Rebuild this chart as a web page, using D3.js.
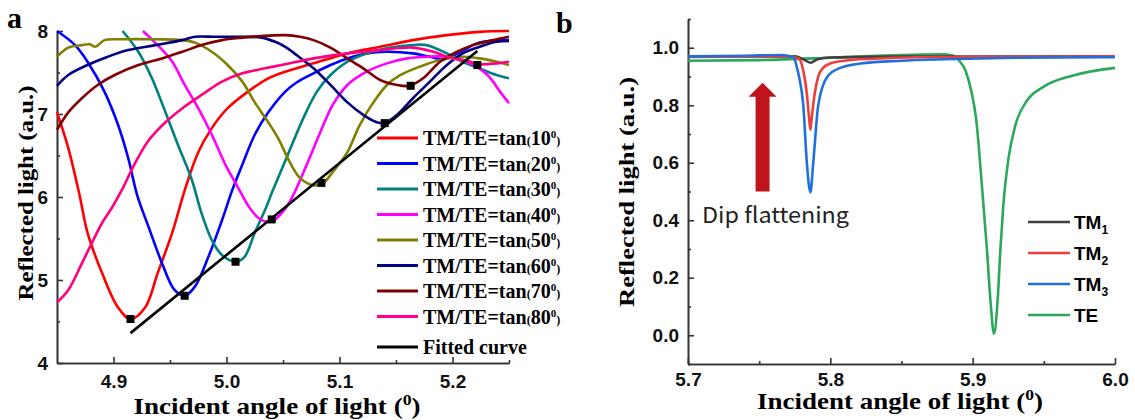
<!DOCTYPE html>
<html>
<head>
<meta charset="utf-8">
<script src="https://cdnjs.cloudflare.com/ajax/libs/d3/7.8.5/d3.min.js"></script>
<style>
  body { margin: 0; background: #fff; }
  svg { display: block; }
  .serif { font-family: "Liberation Serif", "Times New Roman", serif; font-weight: bold; }
  .sans { font-family: "Liberation Sans", Arial, sans-serif; font-weight: bold; }
</style>
</head>
<body>
<svg id="chart" width="1135" height="420"></svg>
<script>
// ---- panel a data: reflected light vs incident angle, one array per TM/TE ratio
var tan10 = [[4.850,7.02],[4.860,6.59],[4.870,6.02],[4.877,5.57],[4.890,5.08],[4.904,4.67],[4.915,4.53],[4.928,4.67],[4.939,5.08],[4.952,5.57],[4.963,6.08],[4.975,6.54],[4.987,6.83],[5.001,7.07],[5.019,7.27],[5.037,7.43],[5.052,7.51],[5.077,7.61],[5.107,7.73],[5.136,7.81],[5.165,7.89],[5.195,7.95],[5.224,7.99],[5.250,8.00]];
var tan20 = [[4.850,8.00],[4.866,7.83],[4.877,7.63],[4.892,7.27],[4.904,6.87],[4.913,6.47],[4.921,6.02],[4.931,5.64],[4.943,5.20],[4.954,4.88],[4.963,4.81],[4.972,4.92],[4.984,5.28],[4.996,5.72],[5.005,6.08],[5.014,6.39],[5.025,6.75],[5.037,7.02],[5.052,7.27],[5.062,7.38],[5.077,7.49],[5.092,7.59],[5.107,7.67],[5.124,7.73],[5.142,7.75],[5.165,7.73],[5.180,7.69],[5.193,7.66],[5.207,7.75],[5.224,7.86],[5.250,7.89]];
var tan30 = [[4.908,8.00],[4.922,7.75],[4.934,7.43],[4.946,7.02],[4.957,6.63],[4.969,6.22],[4.978,5.80],[4.987,5.48],[4.996,5.30],[5.008,5.22],[5.016,5.28],[5.025,5.57],[5.034,5.84],[5.041,6.08],[5.054,6.50],[5.068,6.95],[5.080,7.27],[5.092,7.47],[5.107,7.63],[5.124,7.73],[5.145,7.80],[5.165,7.83],[5.177,7.83],[5.195,7.73],[5.209,7.63],[5.224,7.55],[5.239,7.47],[5.250,7.43]];
var tan40 = [[4.926,8.00],[4.939,7.83],[4.952,7.63],[4.963,7.35],[4.975,7.07],[4.987,6.75],[4.999,6.39],[5.010,6.12],[5.019,5.90],[5.028,5.75],[5.037,5.70],[5.043,5.73],[5.052,5.86],[5.059,6.02],[5.071,6.39],[5.083,6.78],[5.094,7.11],[5.107,7.35],[5.124,7.51],[5.142,7.61],[5.160,7.67],[5.177,7.69],[5.195,7.69],[5.213,7.63],[5.231,7.47],[5.242,7.27],[5.250,7.13]];
var tan50 = [[4.850,7.69],[4.860,7.80],[4.872,7.83],[4.879,7.84],[4.884,7.81],[4.892,7.89],[4.908,7.90],[4.937,7.90],[4.961,7.89],[4.972,7.86],[4.987,7.75],[5.001,7.59],[5.014,7.39],[5.025,7.14],[5.037,6.90],[5.046,6.70],[5.056,6.42],[5.065,6.23],[5.077,6.14],[5.085,6.16],[5.094,6.30],[5.107,6.54],[5.118,6.87],[5.130,7.14],[5.142,7.35],[5.154,7.47],[5.171,7.57],[5.189,7.65],[5.207,7.69],[5.224,7.67],[5.239,7.63],[5.250,7.59]];
var tan60 = [[4.850,7.34],[4.860,7.47],[4.877,7.59],[4.895,7.69],[4.913,7.77],[4.937,7.83],[4.961,7.89],[4.972,7.93],[4.990,7.93],[5.014,7.93],[5.031,7.92],[5.043,7.87],[5.052,7.81],[5.062,7.71],[5.077,7.55],[5.092,7.35],[5.107,7.14],[5.121,6.99],[5.133,6.90],[5.140,6.89],[5.151,6.99],[5.165,7.19],[5.180,7.39],[5.195,7.59],[5.209,7.73],[5.224,7.81],[5.239,7.87],[5.250,7.88]];
var tan70 = [[4.850,6.81],[4.860,7.02],[4.872,7.19],[4.886,7.35],[4.901,7.47],[4.922,7.59],[4.943,7.67],[4.961,7.75],[4.978,7.83],[4.996,7.89],[5.014,7.92],[5.031,7.94],[5.052,7.95],[5.065,7.93],[5.077,7.89],[5.092,7.80],[5.107,7.67],[5.121,7.55],[5.136,7.41],[5.151,7.35],[5.162,7.34],[5.174,7.43],[5.189,7.63],[5.204,7.75],[5.218,7.83],[5.236,7.89],[5.250,7.93]];
var tan80 = [[4.850,4.73],[4.860,4.88],[4.872,5.20],[4.881,5.45],[4.890,5.69],[4.899,5.88],[4.908,6.10],[4.918,6.38],[4.931,6.68],[4.946,6.90],[4.961,7.07],[4.978,7.23],[4.996,7.39],[5.014,7.49],[5.034,7.55],[5.052,7.60],[5.077,7.67],[5.107,7.73],[5.136,7.77],[5.165,7.80],[5.183,7.75],[5.200,7.67],[5.213,7.64],[5.224,7.60],[5.239,7.61],[5.250,7.63]];
var dipMinima = [[4.915,4.53],[4.963,4.81],[5.008,5.22],[5.040,5.73],[5.084,6.17],[5.140,6.89],[5.163,7.34],[5.222,7.59]];
var fittedLine = [[4.915,4.36],[5.222,7.76]];
var seriesNamesA = ["10", "20", "30", "40", "50", "60", "70", "80"];
var coloursA = ["#ff0000", "#0000ff", "#008080", "#ff00ff", "#808000", "#000080", "#800000", "#ff0080"];
var xTicksA = [4.9, 5.0, 5.1, 5.2];
var yTicksA = [4, 5, 6, 7, 8];

// ---- panel b data
var tm1 = [[5.700,0.970],[5.775,0.970],[5.781,0.960],[5.786,0.948],[5.791,0.960],[5.800,0.966],[5.850,0.969],[6.000,0.970]];
var tm2 = [[5.700,0.968],[5.770,0.970],[5.778,0.962],[5.781,0.920],[5.7835,0.840],[5.785,0.760],[5.786,0.715],[5.787,0.760],[5.789,0.840],[5.7915,0.900],[5.795,0.930],[5.800,0.945],[5.810,0.955],[5.830,0.962],[5.860,0.967],[6.000,0.970]];
var tm3 = [[5.700,0.970],[5.740,0.972],[5.765,0.975],[5.774,0.968],[5.7766,0.930],[5.778,0.900],[5.781,0.800],[5.7835,0.600],[5.786,0.497],[5.788,0.600],[5.7915,0.800],[5.798,0.900],[5.807,0.930],[5.821,0.945],[5.850,0.955],[5.880,0.960],[5.930,0.965],[6.000,0.967]];
var te = [[5.700,0.955],[5.750,0.957],[5.800,0.965],[5.850,0.975],[5.878,0.977],[5.886,0.973],[5.8905,0.955],[5.8950,0.920],[5.899,0.850],[5.9025,0.750],[5.9065,0.520],[5.910,0.300],[5.9125,0.120],[5.915,0.005],[5.9175,0.120],[5.9195,0.300],[5.9215,0.450],[5.925,0.610],[5.930,0.730],[5.938,0.815],[5.950,0.865],[5.970,0.903],[6.000,0.930]];
var seriesNamesB = ["TM", "TM", "TM", "TE"];
var subsB = ["1", "2", "3", ""];
var coloursB = ["#404040", "#f03c3c", "#1f6fdc", "#2ba85a"];
var xTicksB = [5.7, 5.8, 5.9, 6.0];
var yTicksB = [0.0, 0.2, 0.4, 0.6, 0.8, 1.0];

var svg = d3.select("#chart");

// scales
var xA = d3.scaleLinear().domain([4.85, 5.25]).range([57, 509]);
var yA = d3.scaleLinear().domain([4, 8]).range([363, 31]);
var xB = d3.scaleLinear().domain([5.7, 6.0]).range([688, 1115]);
var yB = d3.scaleLinear().domain([-0.1, 1.1]).range([364, 19]);

function drawAxes(g, x, y, xTicks, yTicks, xMinor, yMinor, xFmt, yFmt, xPad, yPad) {
  var y0 = y.range()[0], x0 = x.range()[0];
  // minor ticks first
  g.append("g").attr("transform", "translate(0," + y0 + ")")
    .call(d3.axisBottom(x).tickValues(xMinor).tickSize(-3).tickSizeOuter(0).tickFormat(""));
  g.append("g").attr("transform", "translate(" + x0 + ",0)")
    .call(d3.axisLeft(y).tickValues(yMinor).tickSize(-3).tickSizeOuter(0).tickFormat(""));
  g.append("g").attr("transform", "translate(0," + y0 + ")")
    .call(d3.axisBottom(x).tickValues(xTicks).tickSize(-6).tickSizeOuter(0).tickPadding(xPad).tickFormat(d3.format(xFmt)));
  g.append("g").attr("transform", "translate(" + x0 + ",0)")
    .call(d3.axisLeft(y).tickValues(yTicks).tickSize(-6).tickSizeOuter(0).tickPadding(yPad).tickFormat(d3.format(yFmt)));
  g.selectAll(".domain, .tick line").attr("stroke", "#333").attr("stroke-width", 1.6);
  g.selectAll(".tick text").attr("class", "sans").attr("font-weight", "bold")
    .attr("font-size", 19).attr("fill", "#111");
}

// ---------- panel a ----------
var ga = svg.append("g");
drawAxes(ga, xA, yA, xTicksA, yTicksA, [4.95, 5.05, 5.15, 5.25], [4.5, 5.5, 6.5, 7.5], ".1f", "d", 12, 9);

var lineA = d3.line().x(function(d) { return xA(d[0]); }).y(function(d) { return yA(d[1]); })
  .curve(d3.curveCatmullRom.alpha(0.5));
var seriesA = [tan10, tan20, tan30, tan40, tan50, tan60, tan70, tan80];

ga.selectAll("path.curve")
  .data(seriesA)
  .enter()
  .append("path")
  .attr("class", "curve")
  .attr("d", lineA)
  .attr("fill", "none")
  .attr("stroke", function(d, i) { return coloursA[i]; })
  .attr("stroke-width", 2.6);

ga.append("path").attr("d", d3.line().x(function(d) { return xA(d[0]); }).y(function(d) { return yA(d[1]); })(fittedLine))
  .attr("stroke", "#000").attr("stroke-width", 2.6).attr("fill", "none");

ga.selectAll("rect.mk")
  .data(dipMinima)
  .enter()
  .append("rect")
  .attr("class", "mk")
  .attr("x", function(d) { return xA(d[0]) - 4; })
  .attr("y", function(d) { return yA(d[1]) - 4; })
  .attr("width", 8)
  .attr("height", 8)
  .attr("fill", "#000");

// legend a
var legA = ga.append("g").attr("transform", "translate(377,138)");
seriesNamesA.forEach(function(n, i) {
  var row = legA.append("g").attr("transform", "translate(0," + (i * 25.5) + ")");
  row.append("line").attr("x1", 0).attr("x2", 41).attr("stroke", coloursA[i]).attr("stroke-width", 3);
  var t = row.append("text").attr("class", "serif").attr("x", 46).attr("y", 7).attr("font-size", 20);
  t.append("tspan").text("TM/TE=tan");
  t.append("tspan").attr("font-size", 12).text("(");
  t.append("tspan").text(n);
  t.append("tspan").attr("font-size", 11).attr("dy", -7).text("0");
  t.append("tspan").attr("font-size", 12).attr("dy", 7).text(")");
});
var fitRow = legA.append("g").attr("transform", "translate(0,209)");
fitRow.append("line").attr("x1", 0).attr("x2", 41).attr("stroke", "#000").attr("stroke-width", 3);
fitRow.append("text").attr("class", "serif").attr("x", 46).attr("y", 7).attr("font-size", 20).text("Fitted curve");

// titles a
var xtA = ga.append("text").attr("class", "serif").attr("x", 277).attr("y", 414)
  .attr("text-anchor", "middle").attr("font-size", 23)
  .attr("textLength", 287).attr("lengthAdjust", "spacingAndGlyphs");
xtA.append("tspan").text("Incident angle of light (");
xtA.append("tspan").attr("font-size", 15).attr("dy", -9).text("0");
xtA.append("tspan").attr("dy", 9).text(")");
ga.append("text").attr("class", "serif").attr("transform", "translate(33,193) rotate(-90)")
  .attr("text-anchor", "middle").attr("font-size", 22)
  .attr("textLength", 215).attr("lengthAdjust", "spacingAndGlyphs").text("Reflected light (a.u.)");
ga.append("text").attr("class", "serif").attr("x", 7).attr("y", 28).attr("font-size", 30).text("a");

// ---------- panel b ----------
var gb = svg.append("g");
drawAxes(gb, xB, yB, xTicksB, yTicksB, [5.75, 5.85, 5.95], [-0.1, 0.1, 0.3, 0.5, 0.7, 0.9, 1.1], ".1f", ".1f", 9, 9);

var lineB = d3.line().x(function(d) { return xB(d[0]); }).y(function(d) { return yB(d[1]); })
  .curve(d3.curveMonotoneX);
var seriesB = [te, tm1, tm2, tm3];
var seriesColB = [coloursB[3], coloursB[0], coloursB[1], coloursB[2]];

gb.selectAll("path.curve")
  .data(seriesB)
  .enter()
  .append("path")
  .attr("class", "curve")
  .attr("d", lineB)
  .attr("fill", "none")
  .attr("stroke", function(d, i) { return seriesColB[i]; })
  .attr("stroke-width", 2.6);

// red arrow annotation
var ax = xB(5.7524), aBot = yB(0.5), aHeadBase = yB(0.83), aTop = yB(0.878);
gb.append("path")
  .attr("d", "M" + (ax - 7) + "," + aBot + "V" + aHeadBase + "H" + (ax - 14) + "L" + ax + "," + aTop +
    "L" + (ax + 14) + "," + aHeadBase + "H" + (ax + 7) + "V" + aBot + "Z")
  .attr("fill", "#c0141c");
gb.append("text").attr("x", 702).attr("y", 223)
  .attr("font-family", "'Noto Sans CJK SC', 'Noto Sans', sans-serif").attr("font-size", 22).attr("fill", "#222")
  .attr("textLength", 147).attr("lengthAdjust", "spacingAndGlyphs")
  .text("Dip flattening");

// legend b
var legB = gb.append("g").attr("transform", "translate(1028,222)");
seriesNamesB.forEach(function(n, i) {
  var row = legB.append("g").attr("transform", "translate(0," + (i * 31) + ")");
  row.append("line").attr("x1", 0).attr("x2", 42).attr("stroke", coloursB[i]).attr("stroke-width", 2.6);
  var t = row.append("text").attr("class", "sans").attr("x", 46).attr("y", 7).attr("font-size", 19);
  t.append("tspan").text(n);
  if (subsB[i]) t.append("tspan").attr("font-size", 12).attr("dy", 5).text(subsB[i]);
});

var xtB = gb.append("text").attr("class", "serif").attr("x", 900).attr("y", 409)
  .attr("text-anchor", "middle").attr("font-size", 23)
  .attr("textLength", 286).attr("lengthAdjust", "spacingAndGlyphs");
xtB.append("tspan").text("Incident angle of light (");
xtB.append("tspan").attr("font-size", 15).attr("dy", -9).text("0");
xtB.append("tspan").attr("dy", 9).text(")");
gb.append("text").attr("class", "serif").attr("transform", "translate(634,192) rotate(-90)")
  .attr("text-anchor", "middle").attr("font-size", 22)
  .attr("textLength", 230).attr("lengthAdjust", "spacingAndGlyphs").text("Reflected light (a.u.)");
gb.append("text").attr("class", "serif").attr("x", 556).attr("y", 33).attr("font-size", 30).text("b");
</script>
</body>
</html>
